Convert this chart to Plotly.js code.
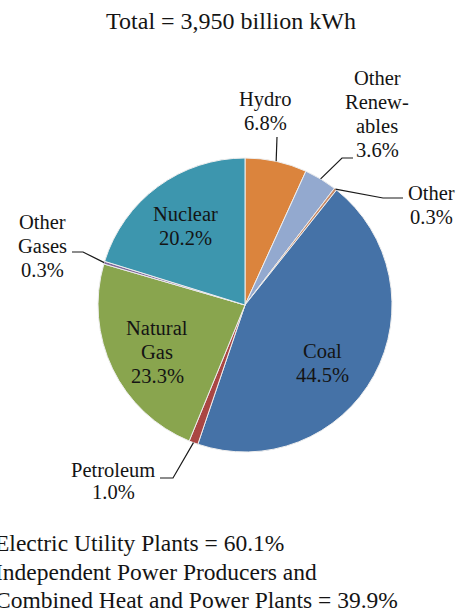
<!DOCTYPE html>
<html><head><meta charset="utf-8">
<script src="https://cdn.plot.ly/plotly-3.0.1.min.js"></script>
<style>html,body{margin:0;padding:0;background:#fff;overflow:hidden;}</style>
</head><body><div id="chart" style="width:459px;height:612px;"></div>
<script>
// ---- data ----
const categories = ["Hydro", "Other Renewables", "Other", "Coal", "Petroleum", "Natural Gas", "Other Gases", "Nuclear"];
const shares = [6.8, 3.6, 0.3, 44.5, 1.0, 23.3, 0.3, 20.2];
const labelNames = [["Hydro"], ["Other", "Renew-", "ables"], ["Other"], ["Coal"], ["Petroleum"], ["Natural", "Gas"], ["Other", "Gases"], ["Nuclear"]];
const titleText = "Total = 3,950 billion kWh";
const footnoteLines = ["Electric Utility Plants = 60.1%", "Independent Power Producers and", "Combined Heat and Power Plants = 39.9%"];

// ---- styles ----
const sliceColors = ["#DB843D", "#93A9CF", "#C98A66", "#4572A7", "#AA4643", "#89A54E", "#80699B", "#3D96AE"];
const W = 459, H = 612;
const CX = 245, CY = 305, R = 147;
const FONT = "Liberation Serif, Times New Roman, serif";
const TXT = "#141414";
// label placement (pixels): center x, first line y, line step, leader bend points
const labelPlace = [
  {x: 265, y: 100, step: 23, leader: [[277, 137]]},
  {x: 377, y: 78, step: 24, leader: [[342, 158], [353, 158]]},
  {x: 431, y: 193, step: 24, leader: [[383, 198], [403, 198]]},
  {x: 322, y: 351, step: 24, leader: null},
  {x: 113, y: 470, step: 22, leader: [[173, 478], [160, 478]]},
  {x: 157, y: 328, step: 24, leader: null},
  {x: 42, y: 222, step: 24, leader: [[83, 252], [72, 252]]},
  {x: 185, y: 214, step: 24, leader: null}
];

const px = x => x / W;
const py = y => 1 - y / H;

const annotations = [];
const shapes = [];
const total = shares.reduce((a, b) => a + b, 0);
let cum = 0;
shares.forEach((v, i) => {
  const mid = (cum + v / 2) / total * 2 * Math.PI;
  cum += v;
  const p = labelPlace[i];
  const lines = labelNames[i].concat([v.toFixed(1) + "%"]);
  lines.forEach((t, k) => {
    annotations.push({
      text: t, xref: "paper", yref: "paper",
      x: px(p.x), y: py(p.y + k * p.step), xanchor: "center", yanchor: "middle",
      showarrow: false, font: {family: FONT, size: 20.5, color: TXT}
    });
  });
  if (p.leader) {
    const ex = CX + R * Math.sin(mid), ey = CY - R * Math.cos(mid);
    let path = "M " + px(ex) + "," + py(ey);
    p.leader.forEach(pt => { path += " L " + px(pt[0]) + "," + py(pt[1]); });
    shapes.push({type: "path", xref: "paper", yref: "paper", path: path,
      line: {color: "#1a1a1a", width: 1.2}});
  }
});

footnoteLines.forEach((t, k) => {
  annotations.push({
    text: t, xref: "paper", yref: "paper",
    x: px(-7), y: py(543 + k * 28.5), xanchor: "left", yanchor: "middle",
    showarrow: false, font: {family: FONT, size: 23.5, color: TXT}
  });
});

const trace = {
  type: "pie",
  labels: categories,
  values: shares,
  sort: false,
  direction: "clockwise",
  rotation: 0,
  textinfo: "none",
  hoverinfo: "label+percent",
  marker: {colors: sliceColors, line: {color: "#eeeeee", width: 1}},
  domain: {x: [px(CX - R), px(CX + R)], y: [py(CY + R), py(CY - R)]},
  showlegend: false
};

const layout = {
  width: W, height: H,
  margin: {l: 0, r: 0, t: 0, b: 0},
  paper_bgcolor: "#ffffff",
  showlegend: false,
  title: {text: titleText, x: px(231), xanchor: "center", y: 1 - 21 / H, yanchor: "middle",
    font: {family: FONT, size: 24, color: TXT}},
  annotations: annotations,
  shapes: shapes
};

Plotly.newPlot("chart", [trace], layout, {displayModeBar: false, staticPlot: true});
</script>
</body></html>
